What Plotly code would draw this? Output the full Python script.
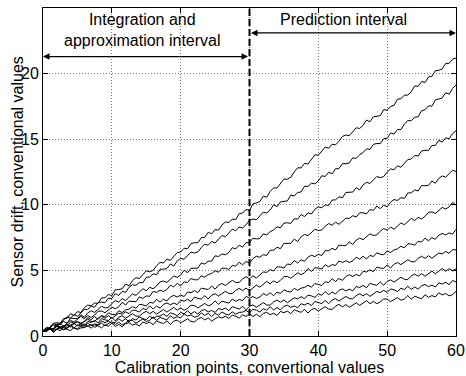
import plotly.graph_objects as go

# calibration points, half-unit steps from 0 to 60
x_points = [i * 0.5 for i in range(121)]

line1 = [0.40, 0.66, 0.60, 0.97, 1.01, 0.98, 1.34, 1.34, 1.70, 1.56, 1.86, 1.79, 2.16, 2.36, 2.30, 2.52, 2.48, 2.90, 2.92, 3.16, 3.08,
         3.52, 3.54, 3.60, 3.96, 3.82, 4.22, 4.44, 4.38, 4.68, 4.96, 4.90, 5.00, 5.36, 5.62, 5.56, 5.86, 5.76, 6.08, 6.36, 6.40,
         6.69, 6.65, 7.05, 7.11, 7.11, 7.49, 7.52, 7.90, 7.79, 8.11, 8.07, 8.46, 8.69, 8.65, 8.90, 8.88, 9.33, 9.37, 9.64, 9.58,
         10.07, 10.14, 10.25, 10.66, 10.57, 11.02, 11.29, 11.28, 11.63, 11.96, 11.95, 12.10, 12.51, 12.82, 12.81, 13.16, 13.11, 13.48, 13.81, 13.78,
         14.07, 14.40, 14.31, 14.62, 14.57, 14.84, 15.21, 15.32, 15.27, 15.56, 15.87, 15.82, 16.05, 16.46, 16.33, 16.70, 16.77, 16.80, 17.25, 17.20,
         17.50, 17.58, 18.06, 18.08, 18.36, 18.36, 18.62, 19.05, 19.04, 19.40, 19.32, 19.74, 19.80, 20.22, 20.25, 20.35, 20.78, 20.78, 21.10, 21.18]
line2 = [0.40, 0.42, 0.69, 0.94, 0.84, 0.90, 1.23, 1.46, 1.36, 1.63, 1.49, 1.78, 2.02, 2.03, 2.27, 2.20, 2.55, 2.58, 2.53, 2.88, 2.86,
         3.23, 3.09, 3.40, 3.33, 3.71, 3.91, 3.86, 4.08, 4.05, 4.47, 4.50, 4.74, 4.67, 5.09, 5.10, 5.14, 5.49, 5.33, 5.72, 5.92,
         5.85, 6.13, 6.40, 6.32, 6.41, 6.75, 7.00, 6.92, 7.21, 7.09, 7.40, 7.66, 7.57, 7.83, 8.14, 8.02, 8.31, 8.23, 8.48, 8.82,
         8.92, 8.86, 9.14, 9.44, 9.38, 9.60, 10.00, 9.86, 10.22, 10.28, 10.30, 10.74, 10.68, 10.94, 10.98, 11.42, 11.40, 11.64, 11.60, 11.82,
         12.21, 12.16, 12.48, 12.36, 12.74, 12.76, 13.14, 13.13, 13.19, 13.58, 13.54, 13.82, 13.98, 14.26, 14.22, 14.61, 14.67, 14.66, 15.04, 15.06,
         15.48, 15.39, 15.75, 15.73, 16.16, 16.41, 16.41, 16.68, 16.70, 17.17, 17.25, 17.54, 17.52, 17.99, 18.05, 18.14, 18.54, 18.43, 18.87, 19.12]
line3 = [0.40, 0.44, 0.62, 0.54, 0.92, 0.90, 1.10, 0.98, 1.36, 1.32, 1.32, 1.62, 1.42, 1.76, 1.92, 1.80, 2.04, 2.26, 2.14, 2.18, 2.48,
         2.70, 2.59, 2.85, 2.70, 2.98, 3.21, 3.09, 3.32, 3.60, 3.45, 3.71, 3.60, 3.82, 4.13, 4.19, 4.08, 4.32, 4.57, 4.47, 4.64,
         5.01, 4.83, 5.16, 5.18, 5.17, 5.57, 5.48, 5.70, 5.71, 6.11, 6.06, 6.26, 6.19, 6.37, 6.73, 6.64, 6.93, 6.77, 7.12, 7.10,
         7.45, 7.40, 7.43, 7.78, 7.71, 7.95, 8.08, 8.32, 8.25, 8.60, 8.63, 8.58, 8.93, 8.91, 9.26, 9.10, 9.39, 9.30, 9.66, 9.84,
         9.78, 9.99, 9.95, 10.36, 10.38, 10.61, 10.53, 10.94, 10.94, 10.97, 11.31, 11.14, 11.52, 11.71, 11.63, 11.90, 12.16, 12.07, 12.15, 12.48,
         12.74, 12.67, 12.97, 12.86, 13.18, 13.45, 13.49, 13.76, 13.72, 14.10, 14.16, 14.14, 14.52, 14.53, 14.91, 14.78, 15.10, 15.04, 15.43, 15.64]
line4 = [0.40, 0.37, 0.65, 0.84, 0.70, 0.93, 0.75, 1.00, 1.20, 1.05, 1.25, 1.50, 1.32, 1.55, 1.41, 1.60, 1.88, 1.91, 1.77, 1.98, 2.20,
         2.08, 2.23, 2.57, 2.36, 2.66, 2.65, 2.61, 2.98, 2.86, 3.05, 3.03, 3.40, 3.32, 3.49, 3.39, 3.54, 3.87, 3.75, 4.01, 3.82,
         4.13, 4.07, 4.38, 4.29, 4.28, 4.59, 4.48, 4.68, 4.77, 4.97, 4.86, 5.17, 5.16, 5.07, 5.38, 5.32, 5.63, 5.43, 5.68, 5.55,
         5.90, 6.08, 6.00, 6.20, 6.14, 6.54, 6.54, 6.76, 6.66, 7.06, 7.04, 7.06, 7.38, 7.20, 7.56, 7.74, 7.64, 7.90, 8.14, 8.04,
         8.08, 8.37, 8.57, 8.44, 8.68, 8.51, 8.77, 8.98, 8.96, 9.17, 9.07, 9.39, 9.39, 9.31, 9.63, 9.58, 9.90, 9.71, 9.97, 9.85,
         10.21, 10.40, 10.33, 10.54, 10.49, 10.90, 10.91, 11.14, 11.05, 11.46, 11.45, 11.48, 11.81, 11.64, 12.01, 12.20, 12.11, 12.38, 12.63, 12.54]
line5 = [0.40, 0.55, 0.51, 0.44, 0.78, 0.63, 0.79, 0.74, 1.08, 0.97, 1.11, 0.98, 1.10, 1.40, 1.25, 1.48, 1.26, 1.55, 1.47, 1.76, 1.65,
         1.62, 1.92, 1.79, 1.98, 2.05, 2.24, 2.11, 2.41, 2.38, 2.28, 2.57, 2.50, 2.79, 2.58, 2.81, 2.67, 2.97, 3.10, 2.97, 3.12,
         3.01, 3.35, 3.30, 3.46, 3.31, 3.65, 3.58, 3.54, 3.81, 3.57, 3.88, 4.00, 3.85, 4.05, 4.24, 4.08, 4.09, 4.35, 4.52, 4.36,
         4.59, 4.42, 4.67, 4.88, 4.85, 5.06, 4.95, 5.27, 5.26, 5.18, 5.49, 5.44, 5.75, 5.56, 5.81, 5.69, 6.01, 6.16, 6.05, 6.22,
         6.14, 6.51, 6.49, 6.68, 6.56, 6.93, 6.89, 6.88, 7.18, 6.97, 7.31, 7.46, 7.34, 7.57, 7.79, 7.66, 7.70, 7.99, 8.19, 8.06,
         8.30, 8.14, 8.40, 8.62, 8.48, 8.70, 8.96, 8.80, 9.04, 8.92, 9.12, 9.42, 9.46, 9.34, 9.56, 9.80, 9.68, 9.84, 10.18, 9.98]
line6 = [0.40, 0.46, 0.61, 0.45, 0.78, 0.70, 0.65, 0.91, 0.66, 0.96, 1.07, 0.91, 1.10, 1.28, 1.11, 1.11, 1.36, 1.52, 1.35, 1.55, 1.34,
         1.56, 1.73, 1.67, 1.84, 1.70, 1.98, 1.94, 1.82, 2.10, 2.01, 2.29, 2.06, 2.28, 2.12, 2.41, 2.52, 2.38, 2.51, 2.39, 2.72,
         2.65, 2.80, 2.63, 2.96, 2.87, 2.82, 3.07, 2.82, 3.11, 3.22, 3.05, 3.24, 3.41, 3.24, 3.23, 3.48, 3.63, 3.46, 3.65, 3.44,
         3.68, 3.88, 3.72, 3.92, 4.16, 3.98, 4.20, 4.06, 4.24, 4.52, 4.54, 4.40, 4.60, 4.82, 4.68, 4.82, 5.14, 4.92, 5.20, 5.18,
         5.10, 5.44, 5.28, 5.44, 5.38, 5.72, 5.60, 5.74, 5.60, 5.72, 6.01, 5.86, 6.08, 5.86, 6.14, 6.06, 6.34, 6.23, 6.19, 6.48,
         6.36, 6.56, 6.64, 6.84, 6.72, 7.03, 7.01, 6.92, 7.22, 7.16, 7.46, 7.26, 7.50, 7.37, 7.68, 7.82, 7.70, 7.86, 7.76, 8.12]
line7 = [0.40, 0.33, 0.59, 0.50, 0.76, 0.53, 0.73, 0.57, 0.84, 0.95, 0.79, 0.92, 0.78, 1.11, 1.03, 1.18, 1.00, 1.33, 1.23, 1.18, 1.42,
         1.16, 1.44, 1.54, 1.36, 1.54, 1.70, 1.52, 1.50, 1.74, 1.88, 1.70, 1.88, 1.66, 1.86, 2.02, 1.82, 1.98, 2.18, 1.96, 2.14,
         1.96, 2.10, 2.34, 2.32, 2.14, 2.30, 2.48, 2.30, 2.40, 2.68, 2.42, 2.66, 2.60, 2.50, 2.82, 2.64, 2.78, 2.70, 3.02, 2.88,
         3.01, 2.86, 2.97, 3.25, 3.09, 3.30, 3.07, 3.34, 3.25, 3.52, 3.40, 3.35, 3.63, 3.48, 3.65, 3.70, 3.87, 3.72, 4.00, 3.95,
         3.85, 4.14, 4.07, 4.36, 4.15, 4.38, 4.24, 4.54, 4.67, 4.54, 4.69, 4.58, 4.93, 4.88, 5.05, 4.90, 5.25, 5.18, 5.15, 5.42,
         5.18, 5.48, 5.60, 5.44, 5.64, 5.82, 5.66, 5.66, 5.92, 6.08, 5.92, 6.12, 5.92, 6.14, 6.32, 6.26, 6.44, 6.30, 6.59, 6.55]
line8 = [0.40, 0.56, 0.53, 0.35, 0.50, 0.68, 0.49, 0.59, 0.86, 0.60, 0.83, 0.77, 0.66, 0.98, 0.79, 0.93, 0.84, 1.16, 1.01, 1.13, 0.96,
         1.05, 1.31, 1.13, 1.32, 1.07, 1.32, 1.21, 1.46, 1.32, 1.25, 1.51, 1.34, 1.49, 1.52, 1.67, 1.50, 1.76, 1.69, 1.55, 1.80,
         1.69, 1.93, 1.68, 1.86, 1.68, 1.93, 2.02, 1.84, 1.95, 1.79, 2.10, 2.00, 2.13, 1.93, 2.24, 2.12, 2.05, 2.27, 2.00, 2.26,
         2.37, 2.19, 2.38, 2.54, 2.37, 2.35, 2.60, 2.74, 2.57, 2.75, 2.54, 2.74, 2.91, 2.83, 3.00, 2.84, 3.12, 3.06, 2.94, 3.20,
         3.11, 3.38, 3.15, 3.36, 3.20, 3.48, 3.59, 3.44, 3.57, 3.44, 3.77, 3.70, 3.85, 3.68, 4.01, 3.92, 3.87, 4.12, 3.87, 4.16,
         4.28, 4.11, 4.31, 4.48, 4.32, 4.31, 4.57, 4.72, 4.56, 4.75, 4.55, 4.76, 4.94, 4.75, 4.93, 5.14, 4.94, 5.13, 4.97, 5.12]
line9 = [0.40, 0.35, 0.58, 0.30, 0.57, 0.66, 0.47, 0.63, 0.78, 0.59, 0.56, 0.78, 0.91, 0.72, 0.89, 0.65, 0.84, 0.99, 0.78, 0.92, 1.11,
         0.88, 1.05, 0.85, 0.98, 1.21, 1.18, 0.98, 1.13, 1.30, 1.11, 1.19, 1.46, 1.19, 1.42, 1.34, 1.23, 1.54, 1.35, 1.47, 1.38,
         1.68, 1.52, 1.61, 1.43, 1.51, 1.76, 1.56, 1.74, 1.48, 1.72, 1.59, 1.83, 1.68, 1.60, 1.84, 1.66, 1.80, 1.82, 1.95, 1.77,
         2.03, 1.97, 1.83, 2.08, 1.97, 2.23, 1.98, 2.17, 1.99, 2.26, 2.35, 2.18, 2.29, 2.15, 2.46, 2.37, 2.50, 2.32, 2.63, 2.52,
         2.47, 2.71, 2.46, 2.74, 2.85, 2.67, 2.86, 3.02, 2.85, 2.83, 3.08, 3.22, 3.05, 3.23, 3.02, 3.22, 3.39, 3.31, 3.48, 3.32,
         3.59, 3.52, 3.39, 3.64, 3.54, 3.79, 3.55, 3.74, 3.57, 3.83, 3.93, 3.76, 3.88, 3.73, 4.05, 3.96, 4.10, 3.91, 4.23, 4.12]
line10 = [0.40, 0.36, 0.54, 0.28, 0.52, 0.40, 0.64, 0.49, 0.41, 0.66, 0.48, 0.62, 0.64, 0.78, 0.60, 0.85, 0.77, 0.62, 0.86, 0.74, 0.98,
          0.72, 0.89, 0.70, 0.94, 1.02, 0.83, 0.93, 0.76, 1.06, 0.95, 1.07, 0.86, 1.16, 1.03, 0.95, 1.16, 0.88, 1.13, 1.21, 1.00,
          1.16, 1.31, 1.11, 1.07, 1.29, 1.42, 1.22, 1.38, 1.14, 1.33, 1.47, 1.37, 1.51, 1.34, 1.59, 1.51, 1.36, 1.61, 1.49, 1.73,
          1.47, 1.66, 1.47, 1.72, 1.80, 1.63, 1.73, 1.57, 1.87, 1.78, 1.90, 1.70, 2.00, 1.89, 1.81, 2.03, 1.75, 2.02, 2.10, 1.90,
          2.08, 2.24, 2.05, 2.03, 2.27, 2.41, 2.22, 2.40, 2.18, 2.38, 2.53, 2.33, 2.49, 2.69, 2.46, 2.64, 2.46, 2.60, 2.83, 2.81,
          2.62, 2.76, 2.93, 2.73, 2.82, 3.08, 2.81, 3.03, 2.96, 2.84, 3.15, 2.95, 3.08, 2.98, 3.29, 3.13, 3.24, 3.06, 3.15, 3.40]

series = [line1, line2, line3, line4, line5, line6, line7, line8, line9, line10]

x_ticks = [0, 10, 20, 30, 40, 50, 60]
y_ticks = [0, 5, 10, 15, 20, 25]
split_x = 30
x_title = "Calibration points, convertional values"
y_title = "Sensor drift, conventional values"
left_label = "Integration and<br>approximation interval"
right_label = "Prediction interval"

FONT = "Arial, Liberation Sans, Helvetica, sans-serif"

fig = go.Figure()
for s in series:
    fig.add_trace(go.Scatter(x=x_points[:len(s)], y=s, mode="lines",
                             line=dict(color="black", width=1),
                             showlegend=False, hoverinfo="skip"))

fig.add_shape(type="line", x0=split_x, x1=split_x, y0=0, y1=25,
              xref="x", yref="y", line=dict(color="black", width=2, dash="7px,3px"))

# double-headed arrows
fig.add_annotation(x=0, y=21.3, ax=split_x, ay=21.3, xref="x", yref="y",
                   axref="x", ayref="y", text="", showarrow=True,
                   arrowhead=2, arrowside="end+start", arrowsize=1,
                   arrowwidth=1.3, arrowcolor="black", standoff=0, startstandoff=0)
fig.add_annotation(x=60, y=23.1, ax=split_x, ay=23.1, xref="x", yref="y",
                   axref="x", ayref="y", text="", showarrow=True,
                   arrowhead=2, arrowside="end+start", arrowsize=1,
                   arrowwidth=1.3, arrowcolor="black", standoff=0, startstandoff=0)

fig.add_annotation(x=14.5, y=23.3, xref="x", yref="y", text=left_label,
                   showarrow=False, font=dict(family=FONT, size=16, color="black"),
                   align="center")
fig.add_annotation(x=43.6, y=24.1, xref="x", yref="y", text=right_label,
                   showarrow=False, font=dict(family=FONT, size=16, color="black"),
                   align="center")

# y-axis title placed as rotated text to sit where the reference has it
fig.add_annotation(x=-0.062, y=0.5, xref="paper", yref="paper", text=y_title,
                   textangle=-90, showarrow=False, xanchor="center", yanchor="middle",
                   font=dict(family=FONT, size=16, color="black"))

axis_common = dict(showline=True, mirror="ticks", linecolor="black", linewidth=1,
                   ticks="inside", ticklen=5, tickcolor="black",
                   showgrid=True, gridcolor="#777777", griddash="1px,2px", gridwidth=1,
                   zeroline=False,
                   tickfont=dict(family=FONT, size=16, color="black"))

fig.update_xaxes(range=[0, 60], tickvals=x_ticks, ticktext=[str(v) for v in x_ticks],
                 title=dict(text=x_title, font=dict(family=FONT, size=16, color="black"),
                            standoff=0),
                 **axis_common)
fig.update_yaxes(range=[0, 25], tickvals=y_ticks, ticktext=[str(v) for v in y_ticks],
                 **axis_common)

fig.update_layout(width=466, height=376,
                  margin=dict(l=43, r=10, t=8, b=40, autoexpand=False),
                  plot_bgcolor="white", paper_bgcolor="white",
                  showlegend=False)

# remove the browser's default 8px page margin so the figure fills the window
fig.write_html("out.html", config={"displayModeBar": False},
               post_script="document.body.style.margin='0px';")
